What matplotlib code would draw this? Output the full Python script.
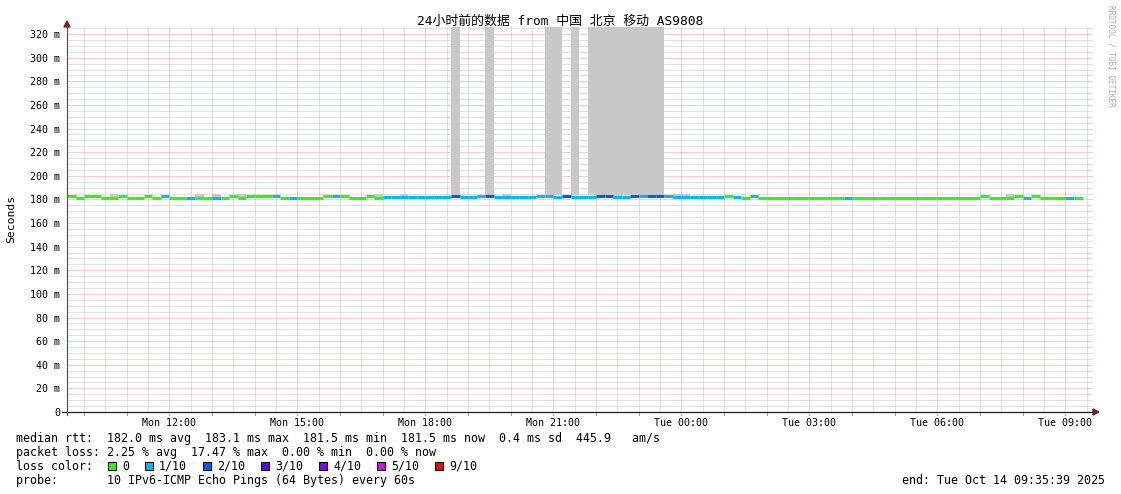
import numpy as np
import matplotlib
matplotlib.use('Agg')
import matplotlib.pyplot as plt
from matplotlib.patches import Rectangle, Polygon
from matplotlib.lines import Line2D

W, H = 1121, 494

# ---------------- data ----------------
start_hour = 9.6          # Mon 09:36 (hours since Mon 00:00)
step_hours = 0.2          # 12 minute consolidation step
end_hour = 33.645

# median rtt per step (ms)
median_ms = [
    183.0, 181.6, 183.0, 183.0, 181.6, 181.6, 183.0, 181.6, 181.6, 183.0,
    181.6, 183.0, 181.6, 181.6, 181.6, 181.6, 181.6, 181.6, 181.6, 183.0,
    181.6, 183.0, 183.0, 183.0, 183.0, 181.6, 181.6, 181.6, 181.6, 181.6,
    183.0, 183.0, 183.0, 181.6, 181.6, 183.0, 181.6, 182.3, 182.3, 182.3,
    182.3, 182.3, 182.3, 182.3, 182.3, 183.1, 182.3, 182.3, 183.0, 183.1,
    182.3, 182.3, 182.3, 182.3, 182.3, 183.0, 183.0, 182.3, 183.1, 182.3,
    182.3, 182.3, 183.1, 183.1, 182.3, 182.3, 183.1, 183.0, 183.1, 182.5,
    183.0, 182.3, 182.3, 181.7, 181.7, 181.7, 181.7, 183.0, 181.7, 181.6,
    183.0, 181.6, 181.6, 181.6, 181.6, 181.6, 181.6, 181.6, 181.6, 181.6,
    181.6, 181.6, 181.6, 181.6, 181.6, 181.6, 181.6, 181.6, 181.6, 181.6,
    181.6, 181.6, 181.6, 181.6, 181.6, 181.6, 181.6, 183.0, 181.6, 181.6,
    181.6, 183.0, 181.6, 183.0, 181.6, 181.6, 181.6, 181.6, 181.5,
]
# packet loss per step (lost pings out of 10)
loss_count = [
    0, 0, 0, 0, 0, 0, 0, 0, 0, 0,
    0, 1, 0, 0, 1, 0, 0, 1, 0, 0,
    0, 0, 0, 0, 1, 0, 1, 0, 0, 0,
    0, 1, 0, 0, 0, 0, 0, 1, 1, 1,
    1, 1, 1, 1, 1, 2, 1, 1, 1, 2,
    1, 1, 1, 1, 1, 1, 1, 1, 2, 1,
    1, 1, 2, 2, 1, 1, 2, 1, 2, 2,
    1, 1, 1, 1, 1, 1, 1, 0, 1, 0,
    1, 0, 0, 0, 0, 0, 0, 0, 0, 0,
    0, 1, 0, 0, 0, 0, 0, 0, 0, 0,
    0, 0, 0, 0, 0, 0, 0, 0, 0, 0,
    0, 0, 1, 0, 0, 0, 0, 1, 0,
]
# steps whose smoke (ping spread) reaches above the chart
tall_smoke_steps = [45, 49, 56, 57, 59, 61, 62, 63, 64, 65, 66, 67, 68, 69]
tall_smoke_bottom = 183.8
# steps with a little visible smoke above the median
small_smoke_steps = [5, 15, 17, 20, 36, 39, 51, 64, 71, 72, 110]
small_smoke_top = 184.2

loss_legend = ['0', '1/10', '2/10', '3/10', '4/10', '5/10', '9/10']
loss_colors = {0: '#26ff00', 1: '#00b8ff', 2: '#0059ff', 3: '#5e00ff',
               4: '#7e00ff', 5: '#dd00ff', 9: '#ff0000'}
legend_colors = ['#26ff00', '#00b8ff', '#0059ff', '#5e00ff', '#7e00ff', '#dd00ff', '#ff0000']

xtick_hours = [12, 15, 18, 21, 24, 27, 30, 33]
xtick_labels = ['Mon 12:00', 'Mon 15:00', 'Mon 18:00', 'Mon 21:00',
                'Tue 00:00', 'Tue 03:00', 'Tue 06:00', 'Tue 09:00']
ytick_values = list(range(0, 321, 20))
ytick_labels = ['0'] + ['%d m' % v for v in ytick_values[1:]]

title = '24小时前的数据 from 中国 北京 移动 AS9808'
legend_lines = [
    'median rtt:  182.0 ms avg  183.1 ms max  181.5 ms min  181.5 ms now  0.4 ms sd  445.9   am/s',
    'packet loss: 2.25 % avg  17.47 % max  0.00 % min  0.00 % now',
    'loss color:',
    'probe:       10 IPv6-ICMP Echo Pings (64 Bytes) every 60s',
]
end_text = 'end: Tue Oct 14 09:35:39 2025'

# ---------------- figure ----------------
MONO = ['DejaVu Sans Mono', 'Noto Sans CJK SC']
fig = plt.figure(figsize=(W / 100, H / 100), dpi=100)
fig.patch.set_facecolor('white')

L, R, T, B = 67, 1093, 27, 412
ax = fig.add_axes([L / W, (H - B) / H, (R - L) / W, (B - T) / H])
ax.set_xlim(start_hour, end_hour)
ax.set_ylim(0, 326)
for s in ax.spines.values():
    s.set_visible(False)
ax.set_facecolor('white')

def fx(x):
    return x / W

def fy(y):
    return 1 - y / H

# grid (1 px on / 1 px off dotted, like rrdtool)
minor_col = '#c4c4c4'
major_col = '#f4a0a0'
dot = (0, (1, 1))
for v in np.arange(5, 326, 5):
    if v % 20 == 0:
        continue
    ax.axhline(v, color=minor_col, lw=0.72, ls=dot, zorder=0.5)
for v in ytick_values[1:]:
    ax.axhline(v, color=major_col, lw=0.72, ls=dot, zorder=0.6)
for h in np.arange(10, 33.6, 0.5):
    if h % 3 == 0:
        continue
    ax.axvline(h, color=minor_col, lw=0.72, ls=dot, zorder=0.5)
for h in xtick_hours:
    ax.axvline(h, color=major_col, lw=0.72, ls=dot, zorder=0.6)

# smoke
t = start_hour + step_hours * np.arange(len(median_ms))
for i in tall_smoke_steps:
    ax.bar(t[i], 326 - tall_smoke_bottom, width=step_hours, bottom=tall_smoke_bottom,
           align='edge', color='#c8c8c8', linewidth=0, zorder=1)
for i in small_smoke_steps:
    ax.bar(t[i], small_smoke_top - 180.5, width=step_hours, bottom=180.5,
           align='edge', color='#c8c8c8', linewidth=0, zorder=1)

# median line coloured by loss
cols = [loss_colors[c] for c in loss_count]
ax.hlines(median_ms, t, t + step_hours, colors=cols, linewidth=2.2, zorder=3,
          capstyle='butt')

# tick labels
ax.set_xticks(xtick_hours)
ax.set_xticklabels(xtick_labels, fontfamily=MONO, fontsize=7.2)
ax.set_yticks(ytick_values)
ax.set_yticklabels(ytick_labels, fontfamily=MONO, fontsize=7.2)
ax.tick_params(axis='x', length=0, pad=4.5)
ax.tick_params(axis='y', length=0, pad=5)

# small tick marks below x-axis
trans = ax.get_xaxis_transform()
for h in np.arange(10, 34, 1.0):
    c = major_col if h % 3 == 0 else '#a0a0a0'
    ax.add_line(Line2D([h, h], [0, -3 / (B - T)], transform=trans, color=c,
                       lw=0.72, clip_on=False, zorder=4))

# axes lines and arrows
axis_col = '#1f1f1f'
arrow_col = '#7f1f1f'
fig.add_artist(Line2D([fx(62), fx(R)], [fy(B), fy(B)], color=axis_col, lw=0.9))
fig.add_artist(Line2D([fx(L), fx(L)], [fy(B + 3), fy(T - 1)], color='#555555', lw=0.9))
fig.add_artist(Polygon([[fx(L), fy(21)], [fx(L - 3), fy(27)], [fx(L + 3), fy(27)]],
                       closed=True, color=arrow_col, transform=fig.transFigure))
fig.add_artist(Polygon([[fx(1099), fy(B)], [fx(1093), fy(B - 3)], [fx(1093), fy(B + 3)]],
                       closed=True, color=arrow_col, transform=fig.transFigure))

# title and labels
fig.text(fx(560), fy(21), title, ha='center', va='center', fontsize=9.3,
         family=MONO)
fig.text(fx(11), fy(219), 'Seconds', ha='center', va='center', rotation=90,
         fontsize=8.2, family=MONO)
fig.text(fx(1111), fy(5), 'RRDTOOL / TOBI OETIKER', ha='center', va='top',
         rotation=270, fontsize=5.6, family=MONO, color='#b0b0b0')

# legend
ys = [438, 452, 466, 480]
for txt, y in zip(legend_lines, ys):
    fig.text(fx(16), fy(y), txt, ha='left', va='center', fontsize=8.37, family=MONO)
fig.text(fx(1105), fy(480), end_text, ha='right', va='center', fontsize=8.37, family=MONO)

x = 108
for lab, col in zip(loss_legend, legend_colors):
    fig.add_artist(Rectangle((fx(x), fy(470)), 8 / W, 8 / H, transform=fig.transFigure,
                             facecolor=col, edgecolor='black', lw=0.8))
    fig.text(fx(x + 14), fy(466), lab, ha='left', va='center', fontsize=8.37, family=MONO)
    x += 14 + 7 * len(lab) + 16

fig.savefig('out.png', dpi=100, facecolor='white')
